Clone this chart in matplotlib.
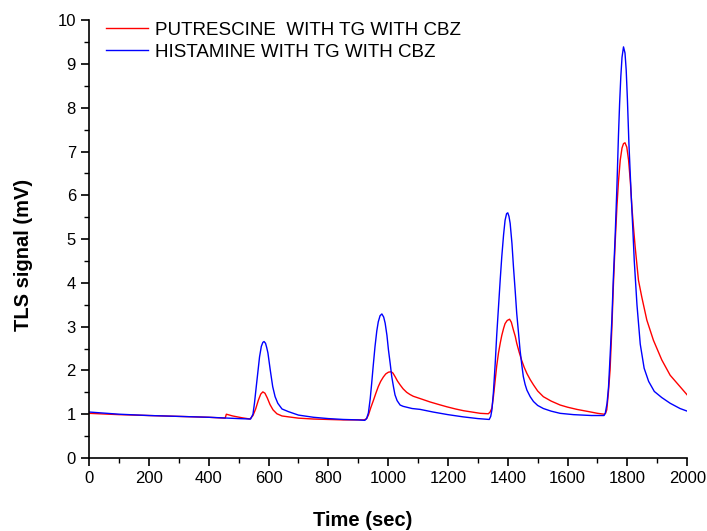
import matplotlib
matplotlib.use("Agg")
import matplotlib.pyplot as plt
from matplotlib.ticker import MultipleLocator

plt.rcParams['font.family'] = ['Liberation Sans', 'DejaVu Sans']

# Putrescine with TG with CBZ (red)
put_t = [0, 100, 200, 300, 400, 455, 459, 480, 510, 538, 548, 557, 566, 574, 581, 588,
         596, 605, 615, 628, 645, 666, 700, 750, 800, 850, 900, 920, 928, 934, 942, 951,
         959, 967, 975, 984, 992, 1001, 1010, 1016, 1023, 1031, 1040, 1050, 1062, 1073,
         1084, 1110, 1140, 1170, 1196, 1225, 1252, 1280, 1308, 1335, 1341, 1347, 1352,
         1358, 1363, 1369, 1375, 1380, 1386, 1391, 1398, 1406, 1412, 1419, 1425, 1430,
         1438, 1446, 1455, 1464, 1475, 1486, 1500, 1519, 1545, 1575, 1600, 1631, 1670,
         1700, 1722, 1727, 1731, 1736, 1742, 1748, 1753, 1759, 1765, 1770, 1776, 1782,
         1787, 1792, 1798, 1804, 1810, 1815, 1820, 1826, 1837, 1848, 1865, 1887, 1915,
         1943, 1976, 2000]
put_v = [1.02, 0.99, 0.97, 0.95, 0.93, 0.91, 1.00, 0.96, 0.92, 0.89, 0.97, 1.12, 1.32,
         1.46, 1.51, 1.48, 1.37, 1.22, 1.10, 1.01, 0.96, 0.94, 0.91, 0.89, 0.88, 0.87,
         0.87, 0.87, 0.90, 0.98, 1.15, 1.32, 1.48, 1.63, 1.75, 1.85, 1.92, 1.96, 1.97,
         1.94, 1.86, 1.76, 1.67, 1.58, 1.50, 1.45, 1.41, 1.35, 1.28, 1.22, 1.17, 1.12,
         1.08, 1.05, 1.02, 1.01, 1.05, 1.14, 1.40, 1.78, 2.10, 2.40, 2.63, 2.80, 2.96,
         3.07, 3.14, 3.17, 3.10, 2.92, 2.78, 2.62, 2.42, 2.24, 2.07, 1.93, 1.79, 1.67,
         1.53, 1.40, 1.30, 1.21, 1.16, 1.11, 1.06, 1.02, 1.00, 1.02, 1.10, 1.45, 2.00,
         2.95, 3.91, 4.90, 5.74, 6.30, 6.80, 7.08, 7.18, 7.20, 7.10, 6.80, 6.30, 5.74,
         5.30, 4.82, 4.06, 3.68, 3.15, 2.69, 2.24, 1.89, 1.63, 1.44]

# Histamine with TG with CBZ (blue)
his_t = [0, 100, 200, 300, 400, 500, 540, 548, 553, 559, 565, 570, 576, 581, 585, 590,
         594, 598, 606, 614, 622, 631, 645, 666, 700, 750, 800, 850, 900, 922, 928, 934,
         940, 945, 950, 956, 962, 967, 973, 979, 985, 990, 996, 1001, 1007, 1012, 1018,
         1023, 1030, 1040, 1050, 1062, 1080, 1107, 1150, 1200, 1250, 1300, 1338, 1343,
         1347, 1352, 1358, 1363, 1369, 1375, 1380, 1386, 1391, 1396, 1400, 1404, 1408,
         1414, 1419, 1425, 1430, 1436, 1441, 1447, 1452, 1458, 1464, 1475, 1486, 1500,
         1519, 1545, 1575, 1620, 1680, 1722, 1726, 1732, 1737, 1742, 1748, 1753, 1759,
         1765, 1770, 1774, 1778, 1782, 1787, 1792, 1796, 1800, 1805, 1812, 1818, 1823,
         1832, 1843, 1856, 1871, 1890, 1915, 1943, 1976, 2000]
his_v = [1.05, 1.00, 0.97, 0.95, 0.93, 0.90, 0.89, 1.00, 1.25, 1.63, 2.00, 2.31, 2.55,
         2.64, 2.66, 2.62, 2.52, 2.40, 2.00, 1.63, 1.40, 1.25, 1.12, 1.06, 0.98, 0.93,
         0.90, 0.88, 0.87, 0.86, 0.90, 1.03, 1.35, 1.71, 2.10, 2.54, 2.90, 3.11, 3.25,
         3.29, 3.22, 3.08, 2.80, 2.47, 2.15, 1.86, 1.62, 1.44, 1.31, 1.21, 1.18, 1.16,
         1.13, 1.11, 1.05, 0.99, 0.94, 0.90, 0.88, 0.95, 1.10, 1.50, 2.16, 2.80, 3.45,
         4.10, 4.60, 5.10, 5.43, 5.58, 5.60, 5.52, 5.36, 4.90, 4.37, 3.80, 3.30, 2.85,
         2.47, 2.12, 1.86, 1.68, 1.55, 1.40, 1.29, 1.20, 1.13, 1.07, 1.02, 0.99, 0.97,
         0.97, 1.02, 1.25, 1.63, 2.30, 3.15, 4.10, 5.05, 6.20, 7.34, 8.10, 8.71, 9.15,
         9.39, 9.25, 8.86, 8.20, 7.20, 6.10, 5.25, 4.50, 3.50, 2.60, 2.05, 1.75, 1.52,
         1.38, 1.25, 1.13, 1.07]

labels = ["PUTRESCINE  WITH TG WITH CBZ", "HISTAMINE WITH TG WITH CBZ"]

fig = plt.figure(figsize=(7.07, 5.31), dpi=100)
ax = fig.add_axes([0.126, 0.1375, 0.846, 0.8245])

ax.plot(put_t, put_v, color='#ff0000', lw=1.0, label=labels[0])
ax.plot(his_t, his_v, color='#0000ff', lw=1.0, label=labels[1])

ax.set_xlim(0, 2000)
ax.set_ylim(0, 10)
ax.xaxis.set_major_locator(MultipleLocator(200))
ax.xaxis.set_minor_locator(MultipleLocator(100))
ax.yaxis.set_major_locator(MultipleLocator(1))
ax.yaxis.set_minor_locator(MultipleLocator(0.5))

for s in ['top', 'right']:
    ax.spines[s].set_visible(False)
for s in ['left', 'bottom']:
    ax.spines[s].set_linewidth(1.2)
    ax.spines[s].set_clip_on(False)

ax.tick_params(which='major', direction='out', length=6, width=1.2, labelsize=12)
ax.tick_params(which='minor', direction='out', length=3.5, width=1.0)

ax.set_xlabel("Time (sec)", fontsize=14.5, fontweight='bold')
ax.set_ylabel("TLS signal (mV)", fontsize=14.5, fontweight='bold')
ax.xaxis.set_label_coords(0.458, -0.121)
ax.yaxis.set_label_coords(-0.094, 0.463)

leg = ax.legend(loc='upper left', bbox_to_anchor=(0.016, 1.014), frameon=False,
                fontsize=13.5, handlelength=2.24, handletextpad=0.37,
                labelspacing=0.26, borderaxespad=0.0)

fig.savefig("out.png", dpi=100)
